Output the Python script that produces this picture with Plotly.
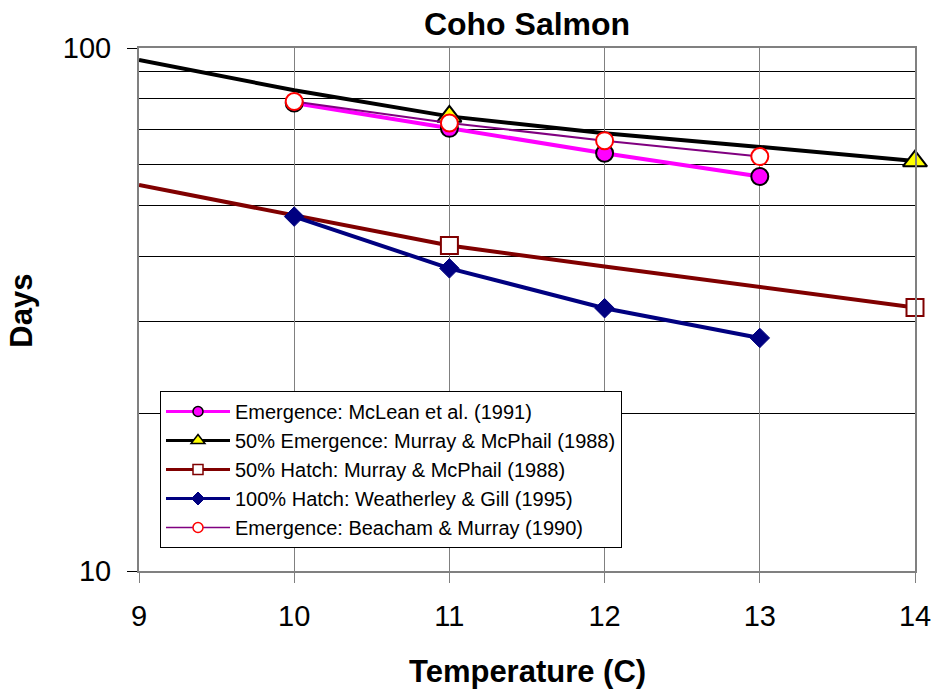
import plotly.graph_objects as go

# ---- data ----
temp_curve = [9, 10, 11, 12, 13, 14]
temp_obs = [10, 11, 12, 13]

mclean_days = [78.5, 70.2, 62.9, 56.8]                 # Emergence: McLean et al. (1991)
emerg50_curve = [94.9, 83.0, 74.0, 68.7, 64.7, 60.8]   # 50% Emergence: Murray & McPhail (1988)
emerg50_pts_x = [11, 14]
emerg50_pts_y = [74.0, 60.8]
hatch50_curve = [54.7, 47.9, 41.9, 38.2, 34.9, 31.9]   # 50% Hatch: Murray & McPhail (1988)
hatch50_pts_x = [11, 14]
hatch50_pts_y = [41.9, 31.9]
hatch100_days = [47.6, 37.9, 31.8, 27.9]               # 100% Hatch: Weatherley & Gill (1995)
beacham_days = [79.0, 71.9, 66.5, 62.0]                # Emergence: Beacham & Murray (1990)

names = [
    "Emergence: McLean et al. (1991)",
    "50% Emergence: Murray & McPhail (1988)",
    "50% Hatch: Murray & McPhail (1988)",
    "100% Hatch: Weatherley & Gill (1995)",
    "Emergence: Beacham & Murray (1990)",
]
x_ticks = [9, 10, 11, 12, 13, 14]
y_major = [10, 100]
y_minor = [20, 30, 40, 50, 60, 70, 80, 90]

FONT = "Arial, Liberation Sans, sans-serif"

FIG_W, FIG_H = 935, 689
ML, MR, MT, MB = 139, 20, 48, 118
PW, PH = FIG_W - ML - MR, FIG_H - MT - MB
PB = MT + PH  # plot bottom in pixels

fig = go.Figure()

# legend-only entries (line + small marker)
legend_styles = [
    dict(line=dict(color="#FF00FF", width=3),
         marker=dict(symbol="circle", size=10, color="#FF00FF", line=dict(color="black", width=1.5))),
    dict(line=dict(color="black", width=3),
         marker=dict(symbol="triangle-up", size=12, color="#FFFF00", line=dict(color="black", width=1.5))),
    dict(line=dict(color="#800000", width=3),
         marker=dict(symbol="square", size=10, color="white", line=dict(color="#800000", width=1.5))),
    dict(line=dict(color="#000080", width=3),
         marker=dict(symbol="diamond", size=10, color="#000080", line=dict(color="#000080", width=1))),
    dict(line=dict(color="#800080", width=1.5),
         marker=dict(symbol="circle", size=10, color="white", line=dict(color="#FF0000", width=1.5))),
]
for nm, st in zip(names, legend_styles):
    fig.add_trace(go.Scatter(x=[None], y=[None], mode="lines+markers", name=nm,
                             showlegend=True, hoverinfo="skip", **st))

# McLean
fig.add_trace(go.Scatter(
    x=temp_obs, y=mclean_days, mode="lines+markers", showlegend=False, name=names[0],
    line=dict(color="#FF00FF", width=4), cliponaxis=False,
    marker=dict(symbol="circle", size=17, color="#FF00FF", line=dict(color="black", width=2)),
))
# 50% emergence curve + markers
fig.add_trace(go.Scatter(
    x=temp_curve, y=emerg50_curve, mode="lines", showlegend=False, name=names[1],
    line=dict(color="black", width=4),
))
fig.add_trace(go.Scatter(
    x=emerg50_pts_x, y=emerg50_pts_y, mode="markers", showlegend=False, name=names[1],
    cliponaxis=False,
    marker=dict(symbol="triangle-up", size=21, color="#FFFF00", line=dict(color="black", width=2)),
))
# 50% hatch curve + markers
fig.add_trace(go.Scatter(
    x=temp_curve, y=hatch50_curve, mode="lines", showlegend=False, name=names[2],
    line=dict(color="#800000", width=4),
))
fig.add_trace(go.Scatter(
    x=hatch50_pts_x, y=hatch50_pts_y, mode="markers", showlegend=False, name=names[2],
    cliponaxis=False,
    marker=dict(symbol="square", size=17, color="white", line=dict(color="#800000", width=2)),
))
# 100% hatch
fig.add_trace(go.Scatter(
    x=temp_obs, y=hatch100_days, mode="lines+markers", showlegend=False, name=names[3],
    line=dict(color="#000080", width=4), cliponaxis=False,
    marker=dict(symbol="diamond", size=15, color="#000080", line=dict(color="#000080", width=1)),
))
# Beacham
fig.add_trace(go.Scatter(
    x=temp_obs, y=beacham_days, mode="lines+markers", showlegend=False, name=names[4],
    line=dict(color="#800080", width=2), cliponaxis=False,
    marker=dict(symbol="circle", size=17, color="white", line=dict(color="#FF0000", width=2)),
))

fig.update_layout(
    width=FIG_W, height=FIG_H,
    margin=dict(l=ML, r=MR, t=MT, b=MB, autoexpand=False),
    paper_bgcolor="white", plot_bgcolor="white",
    font=dict(family=FONT, color="black"),
    title=dict(text="<b>Coho Salmon</b>", font=dict(size=32, family=FONT, color="black"),
               x=527 / FIG_W, xanchor="center", xref="container",
               y=1 - 24 / FIG_H, yanchor="middle", yref="container"),
    showlegend=True,
    legend=dict(
        x=(160 - ML) / PW, y=(PB - 391) / PH, xanchor="left", yanchor="top",
        bgcolor="white", bordercolor="black", borderwidth=1,
        font=dict(size=20, family=FONT, color="black"),
        itemwidth=64, tracegroupgap=0,
    ),
    xaxis=dict(
        range=[9, 14], tickvals=x_ticks, ticktext=[str(v) for v in x_ticks],
        automargin=False,
        showgrid=True, gridcolor="#808080", gridwidth=1,
        showline=True, linecolor="#808080", linewidth=2, mirror=True,
        ticks="outside", ticklen=10, tickcolor="#808080", tickwidth=1,
        tickfont=dict(size=29, family=FONT, color="black"),
        ticklabelstandoff=8,
        zeroline=False,
    ),
    yaxis=dict(
        type="log", range=[1, 2], tickvals=y_major, ticktext=[str(v) for v in y_major],
        automargin=False,
        showgrid=True, gridcolor="black", gridwidth=1,
        minor=dict(tickvals=y_minor, showgrid=True, gridcolor="black", gridwidth=1, ticks=""),
        showline=True, linecolor="#808080", linewidth=2, mirror=True,
        ticks="outside", ticklen=10, tickcolor="black", tickwidth=1,
        tickfont=dict(size=29, family=FONT, color="black"),
        ticklabelstandoff=10,
        zeroline=False,
    ),
    annotations=[
        dict(text="<b>Temperature (C)</b>", xref="paper", yref="paper",
             x=(527 - ML) / PW, y=(PB - 671) / PH, xanchor="center", yanchor="middle",
             showarrow=False, font=dict(size=31, family=FONT, color="black")),
        dict(text="<b>Days</b>", xref="paper", yref="paper", textangle=-90,
             x=(22 - ML) / PW, y=(PB - 310.7) / PH, xanchor="center", yanchor="middle",
             showarrow=False, font=dict(size=31, family=FONT, color="black")),
    ],
)

# remove the default 8px page margin so the figure fills the window exactly
fig.write_html("out.html", config={"displayModeBar": False},
               post_script="document.body.style.margin='0px';")
